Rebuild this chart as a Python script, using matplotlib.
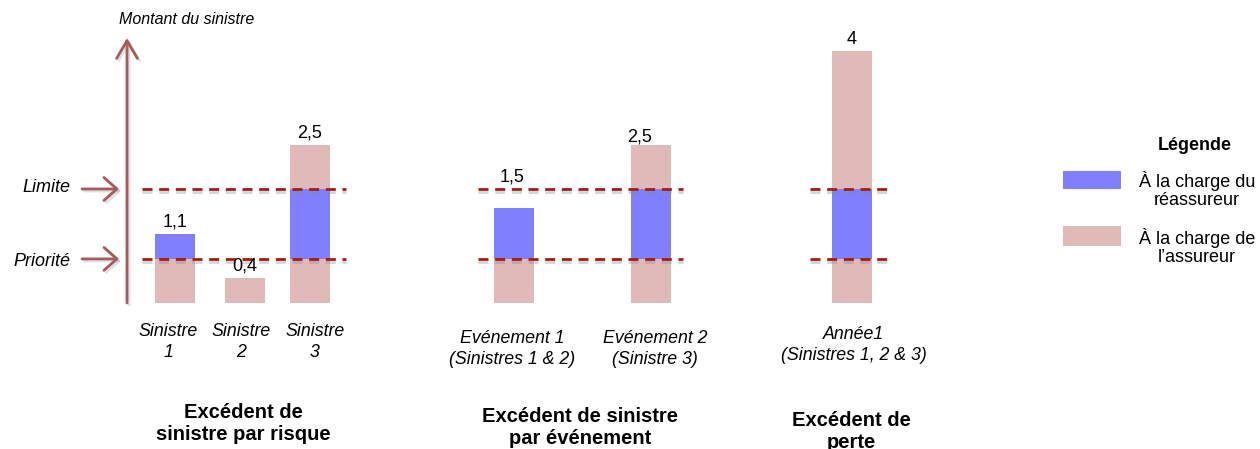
import matplotlib
matplotlib.use("Agg")
import matplotlib.pyplot as plt
import matplotlib.patheffects as pe
from matplotlib.patches import Rectangle

plt.rcParams['font.family'] = ['Liberation Sans', 'DejaVu Sans']

# ---------------- data ----------------
claim_labels = ["Sinistre\n1", "Sinistre\n2", "Sinistre\n3"]
claim_values = [1.1, 0.4, 2.5]
claim_texts = ["1,1", "0,4", "2,5"]

event_labels = ["Evénement 1\n(Sinistres 1 & 2)", "Evénement 2\n(Sinistre 3)"]
event_values = [1.5, 2.5]
event_texts = ["1,5", "2,5"]

year_labels = ["Année1\n(Sinistres 1, 2 & 3)"]
year_values = [4.0]
year_texts = ["4"]

priority = 0.70
limit = 1.81

panel_titles = ["Excédent de\nsinistre par risque",
                "Excédent de sinistre\npar événement",
                "Excédent de\nperte"]

legend_title = "Légende"
legend_labels = ["À la charge du\nréassureur", "À la charge de\nl\u2019assureur"]

# ---------------- style ----------------
BLUE = "#8080FF"
PINK = "#E0B9B9"
ARROW = "#A65A5A"
DASH = "#A31D12"

W, H = 1260, 449
Y0 = 303          # pixel row of value 0
PPU = 63.0        # pixels per unit


def py(p):
    """pixel row -> data y"""
    return (Y0 - p) / PPU


fig = plt.figure(figsize=(W / 100, H / 100), dpi=100)
ax = fig.add_axes([0, 0, 1, 1])
ax.set_xlim(0, W)
ax.set_ylim(py(H), py(0))
ax.axis("off")

bar_w = 40
panels = [
    dict(x=[175, 245, 310], vals=claim_values, txt=claim_texts, lab=claim_labels,
         lab_x=[168, 241, 315], lab_y=342, dash=(142, 346), txt_off=[12, 12, 12]),
    dict(x=[514, 651], vals=event_values, txt=event_texts, lab=event_labels,
         lab_x=[512, 655], lab_y=349, dash=(478, 683),
         txt_off=[32, 9], txt_dx=[-2, -11]),
    dict(x=[852], vals=year_values, txt=year_texts, lab=year_labels,
         lab_x=[854], lab_y=345, dash=(810, 893), txt_off=[12]),
]

shadow = [pe.SimpleLineShadow(offset=(0, -2.5), shadow_color="#888888", alpha=0.35),
          pe.Normal()]

for p in panels:
    xs, vals = p["x"], p["vals"]
    lower = [min(v, priority) for v in vals]
    mid = [max(0.0, min(v, limit) - priority) for v in vals]
    upper = [max(0.0, v - limit) for v in vals]
    ax.bar(xs, lower, width=bar_w, bottom=0, color=PINK, zorder=2)
    ax.bar(xs, mid, width=bar_w, bottom=priority, color=BLUE, zorder=2)
    ax.bar(xs, upper, width=bar_w, bottom=limit, color=PINK, zorder=2)
    # dashed priority / limit lines
    for lvl in (priority, limit):
        ln, = ax.plot(p["dash"], [lvl, lvl], color=DASH, lw=2.0, zorder=3)
        ln.set_dashes([3.6, 2.4])
        ln.set_path_effects(shadow)
    # value labels
    dxs = p.get("txt_dx", [0] * len(xs))
    for x, v, t, off, dx in zip(xs, vals, p["txt"], p["txt_off"], dxs):
        ax.annotate(t, (x, v), xytext=(dx * 0.72, off * 0.72), textcoords="offset points",
                    ha="center", va="center", fontsize=13, color="black")
    # category labels
    for lx, lab in zip(p["lab_x"], p["lab"]):
        ax.text(lx, py(p["lab_y"]), lab, ha="center", va="center", fontsize=12.8,
                style="italic", linespacing=1.35)

for (tx, ty), title in zip([(243, 423), (580, 428), (851, 431)], panel_titles):
    ax.text(tx, py(ty), title, ha="center", va="center", fontsize=14.5,
            weight="bold", linespacing=1.2)

arrow_fx = [pe.SimpleLineShadow(offset=(1.5, -1.5), shadow_color="#999999", alpha=0.3),
            pe.Normal()]

# vertical axis arrow
ax.annotate("", xy=(127, py(38)), xytext=(127, 0),
            arrowprops=dict(arrowstyle="->,head_length=0.85,head_width=0.5",
                            color=ARROW, lw=2.0, mutation_scale=15,
                            shrinkA=0, shrinkB=0, path_effects=arrow_fx))
ax.text(119, py(20), "Montant du sinistre", ha="left", va="center",
        fontsize=11.5, style="italic")

# priority / limit pointers
for lvl, name, ty in [(limit, "Limite", 188), (priority, "Priorité", 262)]:
    ax.annotate("", xy=(119, lvl), xytext=(82, lvl),
                arrowprops=dict(arrowstyle="->,head_length=0.62,head_width=0.55",
                                color=ARROW, lw=2.0, mutation_scale=15,
                                shrinkA=0, shrinkB=0, path_effects=arrow_fx))
    ax.text(70, py(ty), name, ha="right", va="center", fontsize=13, style="italic")

# legend (drawn by hand to match the layout)
ax.text(1195, py(146), legend_title, ha="center", va="center", fontsize=13, weight="bold")
for (y_top, y_bot, ty), col, lab in zip([(171, 189, 190), (226, 246, 247)], [BLUE, PINK], legend_labels):
    ax.add_patch(Rectangle((1063, py(y_bot)), 58, py(y_top) - py(y_bot), color=col, lw=0))
    ax.text(1197, py(ty), lab, ha="center", va="center", fontsize=13, linespacing=1.15)

fig.savefig("out.png", dpi=100)
